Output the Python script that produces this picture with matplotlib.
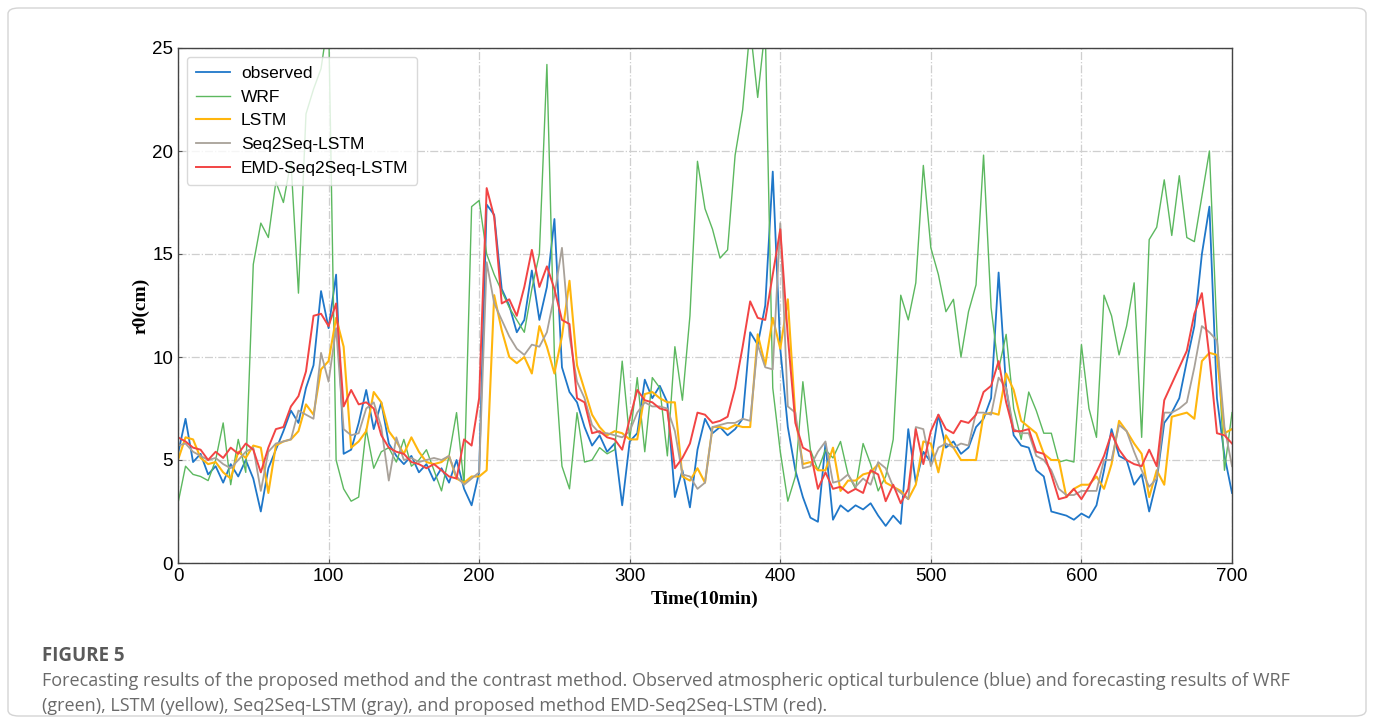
import numpy as np
import matplotlib.pyplot as plt
from matplotlib.patches import FancyBboxPatch

# time axis (10 min steps), sampled every 5 steps
t = np.arange(0, 701, 5)

observed = [5.3, 7.0, 4.9, 5.3, 4.3, 4.7, 3.9, 4.8, 4.2, 5.0, 4.1, 2.5, 4.6, 5.5, 6.4, 7.4,
            6.8, 8.5, 9.6, 13.2, 11.4, 14.0, 5.3, 5.5, 6.8, 8.4, 6.5, 7.8, 5.8, 5.2, 4.8, 5.2,
            4.4, 4.8, 4.0, 4.6, 3.9, 5.0, 3.6, 2.8, 4.4, 17.4, 16.9, 13.3, 12.5, 11.2, 11.8, 14.2,
            11.8, 13.4, 16.7, 9.5, 8.3, 7.8, 6.6, 5.7, 6.2, 5.4, 5.8, 2.8, 5.9, 6.3, 8.9, 8.0,
            8.6, 7.8, 3.2, 4.5, 2.7, 5.5, 7.0, 6.3, 6.6, 6.2, 6.5, 7.0, 11.2, 10.6, 12.5, 19.0,
            10.4, 6.6, 4.5, 3.2, 2.2, 2.0, 5.8, 2.1, 2.8, 2.5, 2.8, 2.6, 2.9, 2.3, 1.8, 2.3,
            1.9, 6.5, 3.9, 5.4, 4.9, 7.2, 5.6, 5.9, 5.3, 5.6, 6.6, 7.0, 8.0, 14.1, 8.5, 6.2,
            5.7, 5.6, 4.5, 4.2, 2.5, 2.4, 2.3, 2.1, 2.4, 2.2, 2.8, 4.5, 6.5, 5.2, 5.0, 3.8,
            4.3, 2.5, 4.0, 6.8, 7.3, 8.0, 9.8, 11.5, 15.0, 17.3, 8.0, 5.2, 3.4]

wrf = [2.9, 4.7, 4.3, 4.2, 4.0, 5.0, 6.8, 3.8, 6.0, 4.4, 14.5, 16.5, 15.8, 18.5, 17.5, 19.5,
       13.1, 21.8, 23.0, 24.0, 26.5, 5.0, 3.6, 3.0, 3.2, 6.5, 4.6, 5.4, 5.6, 4.9, 6.0, 4.7,
       5.0, 5.5, 4.5, 3.5, 5.2, 7.3, 3.8, 17.3, 17.6, 15.0, 14.0, 13.2, 12.4, 11.8, 11.2, 13.3,
       15.0, 24.2, 10.0, 4.7, 3.6, 7.3, 4.9, 5.0, 5.6, 5.3, 5.5, 9.8, 6.0, 9.0, 5.4, 9.0,
       8.5, 5.2, 10.5, 7.9, 12.0, 19.5, 17.2, 16.2, 14.8, 15.2, 19.8, 22.0, 26.0, 22.6, 26.0, 8.5,
       5.4, 3.0, 4.2, 8.8, 5.5, 4.5, 5.5, 5.1, 5.9, 4.3, 3.6, 5.8, 4.8, 3.5, 4.2, 6.0,
       13.0, 11.8, 13.6, 19.3, 15.3, 14.0, 12.2, 12.8, 10.0, 12.2, 13.5, 19.8, 12.4, 9.4, 11.1, 7.5,
       6.0, 8.3, 7.4, 6.3, 6.3, 4.9, 5.0, 4.9, 10.6, 7.5, 6.1, 13.0, 12.0, 10.1, 11.5, 13.6,
       6.1, 15.7, 16.3, 18.6, 15.9, 18.8, 15.8, 15.6, 17.8, 20.0, 11.2, 4.5, 7.3]

lstm = [5.0, 6.1, 6.0, 5.1, 4.8, 4.9, 4.4, 4.1, 5.4, 5.1, 5.7, 5.6, 3.4, 5.7, 5.9, 6.0,
        6.4, 7.7, 7.2, 9.4, 9.8, 11.9, 10.5, 5.6, 5.9, 6.4, 8.3, 7.8, 6.4, 5.9, 5.3, 6.1,
        5.4, 4.9, 4.8, 4.9, 5.2, 4.1, 3.9, 4.2, 4.2, 4.5, 13.0, 11.3, 10.0, 9.7, 10.0, 9.2,
        11.5, 10.5, 9.2, 11.0, 13.7, 9.6, 8.4, 7.2, 6.6, 6.2, 6.4, 6.3, 6.0, 6.0, 8.2, 8.3,
        8.0, 7.8, 7.8, 4.2, 4.0, 4.6, 3.9, 6.6, 6.6, 6.5, 6.7, 6.6, 6.6, 11.1, 9.6, 11.9,
        10.4, 12.8, 7.1, 4.8, 4.9, 4.5, 4.5, 5.6, 3.5, 4.0, 4.0, 4.3, 4.4, 4.8, 3.9, 3.7,
        3.5, 3.1, 3.8, 5.9, 5.8, 4.4, 6.2, 5.6, 5.0, 5.0, 5.0, 7.2, 7.3, 7.2, 9.2, 8.4,
        6.9, 6.6, 6.3, 5.3, 5.0, 5.0, 3.2, 3.6, 3.8, 3.8, 4.2, 3.6, 4.8, 6.9, 6.4, 5.8,
        5.3, 3.2, 4.5, 3.8, 7.1, 7.2, 7.3, 7.0, 9.8, 10.2, 10.1, 6.3, 6.5]

seq2seq = [5.7, 5.8, 5.4, 5.2, 5.0, 5.1, 4.8, 4.6, 5.0, 5.4, 5.6, 3.5, 5.4, 5.8, 5.9, 6.0,
           7.4, 7.2, 7.0, 10.2, 8.8, 11.4, 6.5, 6.2, 6.3, 7.5, 7.8, 6.6, 4.0, 6.1, 5.0, 5.1,
           4.9, 5.0, 5.1, 5.0, 5.2, 4.2, 3.8, 4.1, 4.4, 14.6, 12.6, 11.8, 11.0, 10.4, 10.1, 10.6,
           10.5, 11.2, 13.0, 15.3, 11.0, 8.8, 8.0, 6.7, 6.3, 6.3, 6.2, 6.1, 6.4, 7.3, 7.8, 7.6,
           7.6, 7.5, 6.4, 4.3, 4.2, 3.6, 3.9, 6.6, 6.7, 6.8, 6.8, 7.0, 6.9, 10.6, 9.5, 9.4,
           16.5, 7.6, 7.3, 4.6, 4.7, 5.4, 5.9, 3.9, 4.0, 4.3, 3.7, 4.1, 3.8, 4.9, 4.6, 3.7,
           3.4, 3.1, 6.6, 6.5, 4.7, 5.6, 5.8, 5.6, 5.8, 5.7, 7.3, 7.3, 7.2, 9.0, 8.5, 6.5,
           6.3, 6.3, 5.2, 5.0, 4.5, 3.6, 3.3, 3.3, 3.5, 3.5, 3.5, 5.0, 5.0, 6.7, 6.4, 5.4,
           4.5, 3.7, 4.1, 7.3, 7.3, 7.5, 7.8, 9.5, 11.5, 11.2, 10.8, 6.6, 4.7]

emd = [6.1, 5.9, 5.6, 5.5, 5.0, 5.4, 5.1, 5.6, 5.3, 5.8, 5.5, 4.4, 5.6, 6.5, 6.6, 7.6,
       8.1, 9.3, 12.0, 12.1, 11.5, 12.6, 7.6, 8.4, 7.7, 7.8, 7.5, 6.2, 5.6, 5.4, 5.3, 4.9,
       4.8, 4.6, 4.8, 4.5, 4.2, 4.1, 6.0, 5.7, 8.0, 18.2, 16.8, 12.6, 12.8, 12.0, 13.4, 15.2,
       13.4, 14.4, 13.3, 11.8, 11.6, 8.0, 7.8, 6.3, 6.4, 6.1, 6.0, 5.5, 7.0, 8.4, 7.9, 7.8,
       7.5, 7.4, 4.6, 5.1, 5.8, 7.3, 7.2, 6.8, 6.9, 7.1, 8.5, 10.5, 12.7, 11.9, 11.8, 14.0,
       16.2, 11.0, 6.8, 5.6, 5.4, 3.6, 4.4, 3.6, 3.7, 3.4, 3.6, 3.4, 4.5, 4.3, 3.0, 3.8,
       2.9, 3.6, 6.5, 4.8, 6.4, 7.2, 6.5, 6.3, 6.9, 6.8, 7.2, 8.3, 8.6, 9.8, 7.8, 6.4,
       6.4, 6.5, 5.4, 5.3, 4.3, 3.1, 3.2, 3.6, 3.1, 3.7, 4.4, 5.2, 6.3, 5.5, 5.0, 4.8,
       4.7, 5.5, 4.7, 7.9, 8.7, 9.5, 10.3, 12.1, 13.1, 10.0, 6.3, 6.2, 5.8]

labels = ["observed", "WRF", "LSTM", "Seq2Seq-LSTM", "EMD-Seq2Seq-LSTM"]
colors = ["#1f77c9", "#5cb85f", "#ffb60d", "#a8a199", "#f24444"]
widths = [1.3, 1.0, 1.5, 1.3, 1.4]

caption_title = "FIGURE 5"
caption_lines = [
    "Forecasting results of the proposed method and the contrast method. Observed atmospheric optical turbulence (blue) and forecasting results of WRF",
    "(green), LSTM (yellow), Seq2Seq-LSTM (gray), and proposed method EMD-Seq2Seq-LSTM (red).",
]

W, H = 1375, 724
fig = plt.figure(figsize=(W / 100, H / 100), dpi=100)

# outer rounded frame
frame = FancyBboxPatch((8 / W, 8 / H), (1366 - 8) / W, (716 - 8) / H,
                       boxstyle="round,pad=0,rounding_size=0.008",
                       transform=fig.transFigure, facecolor="none",
                       edgecolor="#d4d4d4", linewidth=1.0, zorder=-5)
fig.patches.append(frame)

ax = fig.add_axes([178 / W, 1 - 563 / H, (1232 - 178) / W, (563 - 48) / H])

for series, lab, col, lw in zip([observed, wrf, lstm, seq2seq, emd], labels, colors, widths):
    ax.plot(t, series, color=col, lw=lw, label=lab)

ax.set_xlim(0, 700)
ax.set_ylim(0, 25)
ax.set_xticks(range(0, 701, 100))
ax.set_yticks(range(0, 26, 5))
ax.grid(True, linestyle="-.", color="#cfcfcf", linewidth=0.9)
ax.tick_params(direction="in", length=3, labelsize=13.5, color="#555555")
for lab in ax.get_xticklabels() + ax.get_yticklabels():
    lab.set_fontfamily("Liberation Sans")
for sp in ax.spines.values():
    sp.set_color("#444444")
    sp.set_linewidth(1.0)

ax.set_xlabel("Time(10min)", fontfamily="Liberation Serif", fontweight="bold",
              fontsize=14, labelpad=4)
ax.set_ylabel("r0(cm)", fontfamily="Liberation Serif", fontweight="bold",
              fontsize=14, labelpad=2)

leg = ax.legend(loc="upper left", prop={"family": "Liberation Sans", "size": 12.5},
                framealpha=0.8, edgecolor="#d0d0d0", fancybox=True,
                handlelength=2.0, handletextpad=0.6, borderpad=0.5, labelspacing=0.5,
                borderaxespad=0, bbox_to_anchor=(9 / 1054, 1 - 9 / 515))

fig.text(42 / W, 1 - 656 / H, caption_title, fontfamily="Open Sans", fontsize=13.5,
         fontweight="bold", color="#5a5a5a", va="center", ha="left")
for i, line in enumerate(caption_lines):
    fig.text(42 / W, 1 - (681 + 25 * i) / H, line, fontfamily="Open Sans",
             fontsize=13.0, color="#6a6a6a", va="center", ha="left")

fig.savefig("out.png", dpi=100)
